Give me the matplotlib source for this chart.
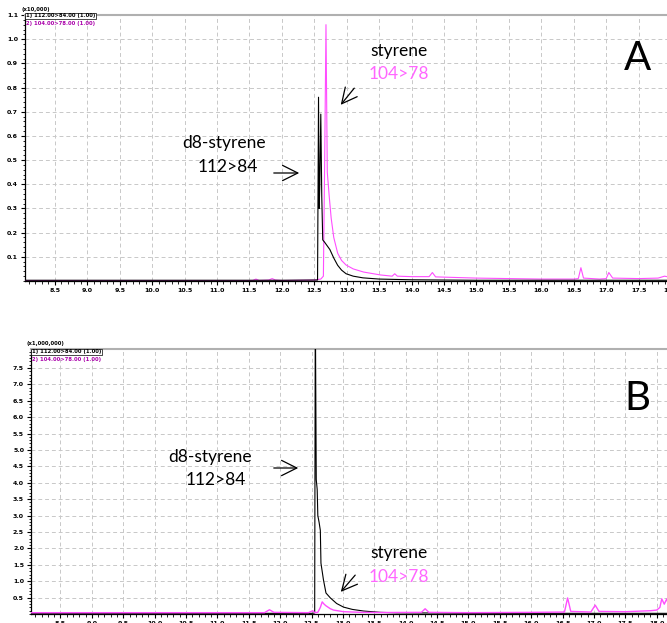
import matplotlib
matplotlib.use("Agg")
import matplotlib.pyplot as plt
import numpy as np

# ---------------- data ----------------
# Panel A (x10,000)
a_black_t = [8.04, 9.5, 11.0, 12.0, 12.55, 12.565, 12.575, 12.585, 12.60, 12.615, 12.63, 12.66,
             12.70, 12.74, 12.80, 12.86, 12.92, 12.99, 13.1, 13.25, 13.5, 14.0, 14.5, 15.0,
             16.0, 17.0, 18.04]
a_black_y = [0.003, 0.003, 0.003, 0.003, 0.004, 0.76, 0.30, 0.40, 0.69, 0.35, 0.17, 0.16,
             0.145, 0.13, 0.095, 0.065, 0.045, 0.03, 0.02, 0.013, 0.008, 0.005, 0.004, 0.003,
             0.003, 0.003, 0.003]

a_pink_t = [8.04, 9.0, 10.0, 11.0, 11.55, 11.6, 11.65, 11.8, 11.85, 11.9, 12.0, 12.5, 12.6,
            12.64, 12.66, 12.68, 12.70, 12.73, 12.76, 12.80, 12.86, 12.92, 12.99, 13.1, 13.26,
            13.52, 13.7, 13.74, 13.78, 14.0, 14.27, 14.32, 14.37, 15.0, 15.5, 16.0, 16.5,
            16.57, 16.61, 16.65, 16.9, 17.0, 17.04, 17.1, 17.5, 17.8, 17.9, 18.04]
a_pink_y = [0.002, 0.002, 0.002, 0.002, 0.002, 0.008, 0.002, 0.004, 0.01, 0.004, 0.002, 0.004,
            0.008, 0.02, 0.5, 1.06, 0.45, 0.35, 0.26, 0.18, 0.115, 0.085, 0.066, 0.05, 0.037,
            0.025, 0.02, 0.03, 0.02, 0.018, 0.018, 0.035, 0.017, 0.012, 0.01, 0.008, 0.008,
            0.01, 0.055, 0.012, 0.008, 0.01, 0.035, 0.012, 0.01, 0.012, 0.02, 0.012]

# Panel B (x1,000,000)
b_black_t = [8.03, 9.0, 10.0, 11.0, 12.0, 12.5, 12.55, 12.56, 12.575, 12.59, 12.60, 12.62,
             12.64, 12.65, 12.69, 12.73, 12.80, 12.9, 13.01, 13.15, 13.33, 13.6, 13.86, 14.5,
             15.0, 16.0, 17.0, 18.27]
b_black_y = [0.02, 0.02, 0.02, 0.02, 0.02, 0.02, 0.03, 9.5, 4.1, 3.8, 3.0, 2.8,
             2.55, 1.55, 1.04, 0.64, 0.49, 0.32, 0.21, 0.14, 0.09, 0.05, 0.035, 0.03,
             0.02, 0.02, 0.02, 0.02]

b_pink_t = [8.03, 9.0, 10.0, 11.0, 11.75, 11.83, 11.9, 12.45, 12.52, 12.55, 12.6, 12.64, 12.67,
            12.70, 12.73, 12.8, 12.85, 13.01, 13.3, 13.6, 14.25, 14.31, 14.37, 15.0, 16.0,
            16.53, 16.58, 16.63, 16.95, 17.02, 17.08, 17.5, 17.9, 18.0, 18.05, 18.08, 18.12,
            18.16, 18.2, 18.23, 18.27]
b_pink_y = [0.04, 0.04, 0.04, 0.04, 0.04, 0.13, 0.05, 0.04, 0.1, 0.04, 0.05, 0.2, 0.37,
            0.3, 0.25, 0.16, 0.12, 0.07, 0.05, 0.045, 0.05, 0.16, 0.05, 0.04, 0.05,
            0.06, 0.49, 0.08, 0.06, 0.27, 0.08, 0.07, 0.1, 0.12, 0.2, 0.46, 0.3,
            0.46, 0.2, 0.26, 0.1]

x_ticks = [8.5, 9.0, 9.5, 10.0, 10.5, 11.0, 11.5, 12.0, 12.5, 13.0, 13.5, 14.0, 14.5,
           15.0, 15.5, 16.0, 16.5, 17.0, 17.5, 18.0]
a_yticks = [0.1, 0.2, 0.3, 0.4, 0.5, 0.6, 0.7, 0.8, 0.9, 1.0, 1.1]
b_yticks = [0.5, 1.0, 1.5, 2.0, 2.5, 3.0, 3.5, 4.0, 4.5, 5.0, 5.5, 6.0, 6.5, 7.0, 7.5]

PINK = "#ff4dff"
TXT_PINK = "#ff66ff"
W, H = 667, 623

fig = plt.figure(figsize=(W / 100, H / 100), dpi=100)


def fp(x, y):
    return (x / W, 1 - y / H)


def style_axes(ax, xlim, ylim, yticks):
    ax.set_xlim(*xlim)
    ax.set_ylim(*ylim)
    ax.set_xticks(x_ticks)
    ax.set_xticklabels([f"{v:.1f}" for v in x_ticks], fontsize=4.5, fontweight="bold")
    ax.set_xticks(np.arange(8.1, xlim[1], 0.1), minor=True)
    ax.set_yticks(yticks)
    ax.set_yticklabels([f"{v:.1f}" for v in yticks], fontsize=4.5, fontweight="bold")
    step = yticks[1] - yticks[0]
    ax.set_yticks(np.arange(ylim[0], ylim[1], step / 5), minor=True)
    ax.tick_params(axis="both", which="major", length=3, width=0.8, pad=2)
    ax.tick_params(axis="both", which="minor", length=1.8, width=0.6)
    ax.grid(True, which="major", linestyle=(0, (4, 3)), color="#c8c8c8", linewidth=0.7)
    ax.spines["right"].set_visible(False)
    ax.spines["top"].set_color("#b0b0b0")
    ax.spines["top"].set_linewidth(1.5)
    ax.spines["left"].set_linewidth(0.9)
    ax.spines["bottom"].set_linewidth(0.9)
    ax.set_axisbelow(True)


axA = fig.add_axes([25 / W, 1 - 281 / H, (W - 25) / W + 0.01, (281 - 15) / H])
axA.plot(a_pink_t, a_pink_y, color=PINK, lw=0.8, zorder=3)
axA.plot(a_black_t, a_black_y, color="black", lw=0.8, zorder=4)
style_axes(axA, (8.04, 18.04), (0, 1.1), a_yticks)

axB = fig.add_axes([31 / W, 1 - 614 / H, (W - 31) / W + 0.01, (614 - 349) / H])
axB.plot(b_black_t, b_black_y, color="black", lw=0.8, zorder=3)
axB.plot(b_pink_t, b_pink_y, color=PINK, lw=1.0, zorder=4)
style_axes(axB, (8.03, 18.27), (0, 8.08), b_yticks)

FONT = ["Lato", "DejaVu Sans"]

# small header labels
fig.text(*fp(21, 10), "(x10,000)", fontsize=3.8, fontweight="bold", va="center", ha="left")
fig.text(*fp(26, 16), "1) 112.00>84.00 (1.00)", fontsize=3.8, fontweight="bold", va="center",
         ha="left", bbox=dict(boxstyle="square,pad=0.15", fc="white", ec="black", lw=0.5))
fig.text(*fp(26, 24), "2) 104.00>78.00 (1.00)", fontsize=3.8, fontweight="bold", va="center",
         ha="left", color="#aa00aa")
fig.text(*fp(27, 344), "(x1,000,000)", fontsize=3.8, fontweight="bold", va="center", ha="left")
fig.text(*fp(32, 352), "1) 112.00>84.00 (1.00)", fontsize=3.8, fontweight="bold", va="center",
         ha="left", bbox=dict(boxstyle="square,pad=0.15", fc="white", ec="black", lw=0.5))
fig.text(*fp(32, 360), "2) 104.00>78.00 (1.00)", fontsize=3.8, fontweight="bold", va="center",
         ha="left", color="#aa00aa")

# panel letters
fig.text(*fp(637, 58), "A", fontsize=29, family=FONT, ha="center", va="center")
fig.text(*fp(637, 398), "B", fontsize=29, family=FONT, ha="center", va="center")

# annotations
def label(x, y, s, color="black"):
    fig.text(*fp(x, y), s, fontsize=12.5, family=FONT, ha="center", va="center", color=color)


def arrow(x0, y0, x1, y1):
    fig.add_artist(matplotlib.patches.FancyArrowPatch(
        fp(x0, y0), fp(x1, y1), transform=fig.transFigure,
        arrowstyle="->,head_length=1.1,head_width=0.55", mutation_scale=10,
        lw=0.9, color="black"))


label(224, 143, "d8-styrene")
label(228, 167, "112>84")
arrow(271, 173, 302, 173)
label(399, 51, "styrene")
label(399, 74, "104>78", TXT_PINK)
arrow(356, 86, 339, 107)

label(210, 457, "d8-styrene")
label(216, 480, "112>84")
arrow(271, 468, 301, 468)
label(399, 553, "styrene")
label(399, 577, "104>78", TXT_PINK)
arrow(357, 573, 339, 594)

fig.savefig("out.png", dpi=100)
